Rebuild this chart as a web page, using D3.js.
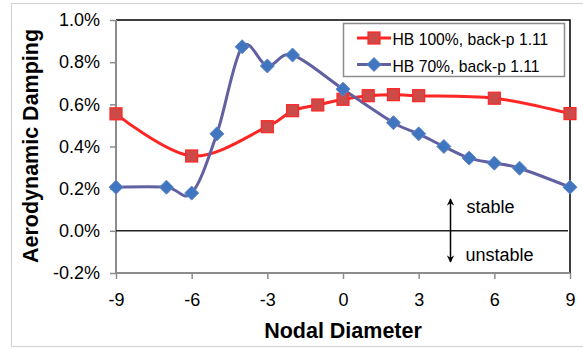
<!DOCTYPE html>
<html>
<head>
<meta charset="utf-8">
<script src="https://cdn.jsdelivr.net/npm/d3@7"></script>
<style>
  html, body { margin: 0; padding: 0; background: #fff; }
  svg { display: block; font-family: "Liberation Sans", Arial, sans-serif; }
</style>
</head>
<body>
<svg id="chart" width="583" height="349"></svg>
<script>
// Nodal diameters and measured aerodynamic damping (%) for each configuration
const ndFull = [-9, -6, -3, -2, -1, 0, 1, 2, 3, 6, 9];
const dampFull = [0.555, 0.355, 0.494, 0.57, 0.597, 0.624, 0.641, 0.646, 0.641, 0.629, 0.556];

const ndPart = [-9, -7, -6, -5, -4, -3, -2, 0, 2, 3, 4, 5, 6, 7, 9];
const dampPart = [0.207, 0.207, 0.179, 0.46, 0.873, 0.782, 0.834, 0.672, 0.513, 0.46, 0.40, 0.345, 0.321, 0.297, 0.207];

const seriesNames = ["HB 100%, back-p 1.11", "HB 70%, back-p 1.11"];
const xTicks = [-9, -6, -3, 0, 3, 6, 9];
const yTicks = [-0.2, 0.0, 0.2, 0.4, 0.6, 0.8, 1.0];

const svg = d3.select("#chart");
const W = 583, H = 349;
const plot = { left: 116, right: 570, top: 20, bottom: 273 };

// outer frame
svg.append("rect")
  .attr("x", 11.5).attr("y", 3.5)
  .attr("width", W + 10).attr("height", 343)
  .attr("fill", "#fff").attr("stroke", "#d4d4d4").attr("stroke-width", 1.2);

const x = d3.scaleLinear().domain([-9, 9]).range([plot.left, plot.right]);
const y = d3.scaleLinear().domain([-0.2, 1.0]).range([plot.bottom, plot.top]);

// plot area border (top/right black)
svg.append("path")
  .attr("d", `M${plot.left},${plot.top}H${plot.right}V${plot.bottom}`)
  .attr("fill", "none").attr("stroke", "#000").attr("stroke-width", 1.5);

// axes
const yAxis = d3.axisLeft(y).tickValues(yTicks).tickSize(6).tickPadding(10)
  .tickFormat(d => d.toFixed(1) + "%");
const gy = svg.append("g").attr("transform", `translate(${plot.left},0)`).call(yAxis);
const xAxis = d3.axisBottom(x).tickValues(xTicks).tickSize(6).tickPadding(14)
  .tickFormat(d => d3.format("d")(d).replace("−", "-"));
const gx = svg.append("g").attr("transform", `translate(0,${plot.bottom})`).call(xAxis);

[gx, gy].forEach(g => {
  g.select(".domain").attr("stroke", "#8c8c8c").attr("stroke-width", 2);
  g.selectAll(".tick line").attr("stroke", "#8c8c8c").attr("stroke-width", 1.5);
  g.selectAll(".tick text").attr("fill", "#000")
    .style("font-size", "18px").style("font-family", "Liberation Sans, Arial, sans-serif");
});
gy.select(".domain").attr("d", `M0,${plot.top}V${plot.bottom}`);
gx.select(".domain").attr("d", `M${plot.left},0H${plot.right}`);

// zero line
svg.append("line")
  .attr("x1", plot.left).attr("x2", plot.right - 2)
  .attr("y1", y(0)).attr("y2", y(0))
  .attr("stroke", "#222").attr("stroke-width", 1.5);

// axis titles
svg.append("text")
  .attr("x", (plot.left + plot.right) / 2 - 0).attr("y", 338)
  .attr("text-anchor", "middle")
  .style("font-size", "21.5px").style("font-weight", "bold")
  .text("Nodal Diameter");
svg.append("text")
  .attr("transform", `translate(38,146) rotate(-90)`)
  .attr("text-anchor", "middle")
  .style("font-size", "21.5px").style("font-weight", "bold")
  .text("Aerodynamic Damping");

// stability annotation
const defs = svg.append("defs");
defs.append("marker").attr("id", "ah")
  .attr("viewBox", "0 0 10 10").attr("refX", 9).attr("refY", 5)
  .attr("markerWidth", 5.5).attr("markerHeight", 4.8).attr("orient", "auto-start-reverse")
  .attr("markerUnits", "strokeWidth")
  .append("path").attr("d", "M0,0L10,5L0,10L3,5Z").attr("fill", "#000");
svg.append("line")
  .attr("x1", 450.5).attr("x2", 450.5).attr("y1", 199).attr("y2", 262)
  .attr("stroke", "#000").attr("stroke-width", 1.5)
  .attr("marker-start", "url(#ah)").attr("marker-end", "url(#ah)");
svg.append("text").attr("x", 466.5).attr("y", 213).style("font-size", "18px").text("stable");
svg.append("text").attr("x", 465.5).attr("y", 261).style("font-size", "18px").text("unstable");

// data series
const curve = d3.curveCardinal.tension(0);
const lineGen = d3.line().x(d => x(d[0])).y(d => y(d[1])).curve(curve);
const fullPts = ndFull.map((n, i) => [n, dampFull[i]]);
const partPts = ndPart.map((n, i) => [n, dampPart[i]]);

const red = "#ff2626", redFill = "#cc4a48";
const blue = "#6060a2", blueFill = "#3f76bf";

svg.append("path").datum(fullPts).attr("d", lineGen)
  .attr("fill", "none").attr("stroke", red).attr("stroke-width", 3);
svg.append("path").datum(partPts).attr("d", lineGen)
  .attr("fill", "none").attr("stroke", blue).attr("stroke-width", 3);

const sq = 12, dm = 7;
function square(g, cx, cy) {
  g.append("rect").attr("x", cx - sq / 2).attr("y", cy - sq / 2)
    .attr("width", sq).attr("height", sq)
    .attr("fill", redFill).attr("stroke", red).attr("stroke-width", 1.2);
}
function diamond(g, cx, cy) {
  g.append("path")
    .attr("d", `M${cx},${cy - dm}L${cx + dm},${cy}L${cx},${cy + dm}L${cx - dm},${cy}Z`)
    .attr("fill", blueFill).attr("stroke", "#5f86c4").attr("stroke-width", 1);
}
const gm1 = svg.append("g");
fullPts.forEach(p => square(gm1, x(p[0]), y(p[1])));
const gm2 = svg.append("g");
partPts.forEach(p => diamond(gm2, x(p[0]), y(p[1])));

// legend
const lg = svg.append("g");
lg.append("rect").attr("x", 343.5).attr("y", 23.5).attr("width", 221).attr("height", 53)
  .attr("fill", "#fff").attr("stroke", "#8c8c8c").attr("stroke-width", 1.5);
const legendRows = [
  { name: seriesNames[0], y: 38, color: red, mark: square },
  { name: seriesNames[1], y: 64.5, color: blue, mark: diamond }
];
legendRows.forEach(r => {
  lg.append("line").attr("x1", 357).attr("x2", 391).attr("y1", r.y).attr("y2", r.y)
    .attr("stroke", r.color).attr("stroke-width", 3);
  r.mark(lg, 374, r.y);
  lg.append("text").attr("x", 392.5).attr("y", r.y + 7)
    .style("font-size", "15.7px").text(r.name);
});
</script>
</body>
</html>
